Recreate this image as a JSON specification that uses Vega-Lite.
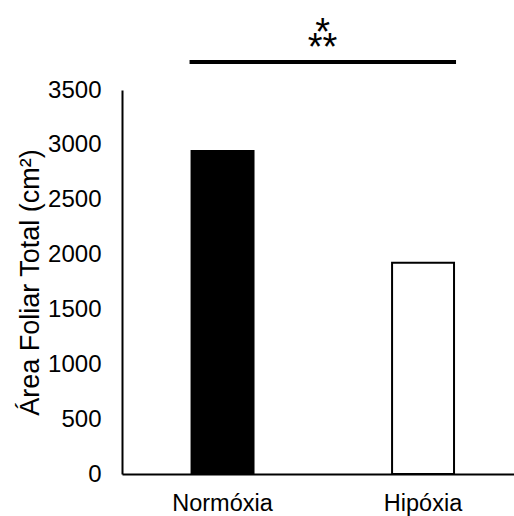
{
  "$schema": "https://vega.github.io/schema/vega-lite/v6.json",
  "width": 392,
  "height": 384,
  "autosize": "none",
  "padding": {"left": 122, "top": 90, "right": 0, "bottom": 42},
  "background": "white",
  "config": {"view": {"stroke": null}, "font": "Liberation Sans"},
  "data": {"values": [
    {"condicao": "Normóxia", "area": 2945},
    {"condicao": "Hipóxia", "area": 1925}
  ]},
  "layer": [
    {
      "mark": {"type": "bar", "stroke": "black", "strokeWidth": 2},
      "encoding": {
        "x": {
          "field": "condicao", "type": "nominal", "sort": null,
          "scale": {"domain": ["Normóxia", "Hipóxia"], "paddingInner": 0.691, "paddingOuter": 0.323, "align": 0.537},
          "axis": {"title": null, "labelAngle": 0, "labelFontSize": 23.5, "labelColor": "black", "labelPadding": 17, "ticks": false, "domainColor": "black", "domainWidth": 2}
        },
        "y": {
          "field": "area", "type": "quantitative",
          "scale": {"domain": [0, 3500]},
          "axis": {"title": "Área Foliar Total (cm²)", "titleFontSize": 27, "titleFontWeight": "normal", "titleColor": "black", "titlePadding": 3, "values": [0, 500, 1000, 1500, 2000, 2500, 3000, 3500], "format": "d", "labelFontSize": 24, "labelColor": "black", "labelPadding": 21, "ticks": false, "grid": false, "domainColor": "black", "domainWidth": 2}
        },
        "fill": {"field": "condicao", "type": "nominal", "scale": {"domain": ["Normóxia", "Hipóxia"], "range": ["black", "white"]}, "legend": null}
      }
    },
    {
      "data": {"values": [{"de": "Normóxia", "ate": "Hipóxia", "y": 3755}]},
      "mark": {"type": "rule", "strokeWidth": 4, "strokeCap": "square", "color": "black", "clip": false},
      "encoding": {
        "x": {"field": "de", "type": "nominal", "bandPosition": 0},
        "x2": {"field": "ate", "bandPosition": 1},
        "y": {"field": "y", "type": "quantitative"}
      }
    },
    {
      "data": {"values": [{"pos": "Normóxia", "y": 4012, "sig": "*\n**"}]},
      "mark": {"type": "text", "fontSize": 38, "lineHeight": 15, "lineBreak": "\n", "dx": 100, "baseline": "middle", "align": "center", "color": "black", "clip": false},
      "encoding": {
        "x": {"field": "pos", "type": "nominal"},
        "y": {"field": "y", "type": "quantitative"},
        "text": {"field": "sig"}
      }
    }
  ]
}
